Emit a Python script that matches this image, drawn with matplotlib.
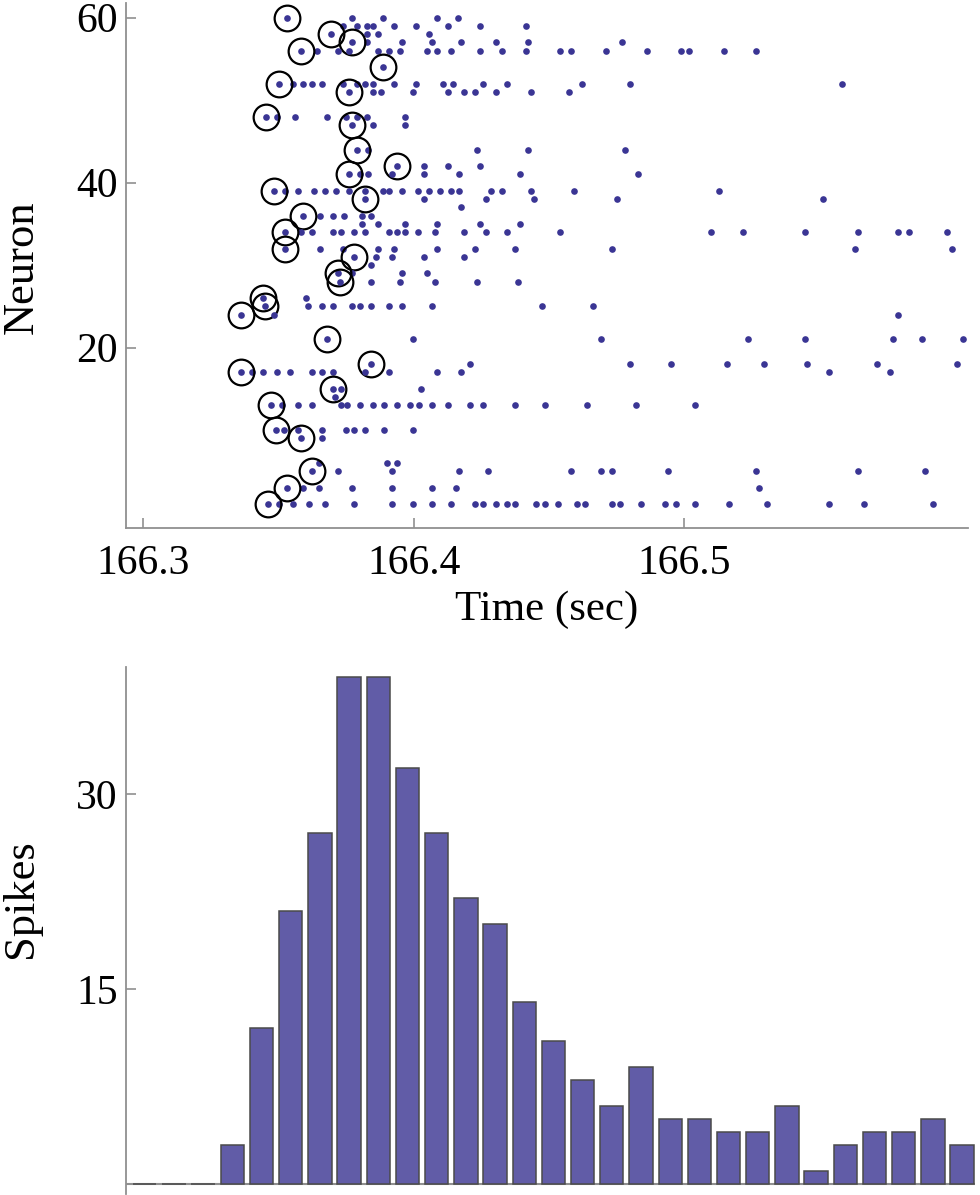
import matplotlib.pyplot as plt

plt.rcParams['font.family'] = ['Liberation Serif', 'DejaVu Serif']

# spike times, in ms after t0 (seconds), one list per neuron
t0 = 166.3
neuron_ids = [60, 59, 58, 57, 56, 54, 52, 51, 48, 47, 44, 42, 41, 39, 38, 37,
              36, 35, 34, 32, 31, 30, 29, 28, 26, 25, 24, 21, 18, 17, 15, 14,
              13, 10, 9, 6, 5, 3, 1]
spike_ms = [
    [53.1, 77.2, 88.6, 108.6, 116.3],
    [73.8, 79.0, 82.7, 84.9, 92.7, 100.8, 112.6, 124.5, 141.5],
    [69.4, 82.7, 86.8, 105.6],
    [77.2, 82.7, 95.6, 106.7, 117.4, 130.4, 142.2, 177.0],
    [58.3, 64.2, 72.0, 76.0, 86.8, 90.8, 94.9, 104.9, 108.6, 113.8, 124.5,
     132.6, 141.5, 154.0, 158.1, 171.1, 186.2, 198.8, 201.7, 214.7, 226.5],
    [88.6],
    [50.2, 55.3, 59.0, 62.4, 66.1, 73.8, 79.0, 82.0, 84.9, 92.7, 100.8, 110.8,
     114.5, 125.6, 134.5, 162.2, 179.9, 258.3],
    [76.0, 84.9, 87.9, 99.7, 112.6, 118.6, 122.6, 130.4, 143.3, 157.4],
    [45.4, 49.4, 56.1, 67.9, 74.9, 79.0, 82.7, 96.7],
    [77.2, 84.9, 96.7],
    [79.0, 83.1, 123.4, 142.2, 178.1],
    [93.8, 103.8, 112.6, 124.5],
    [76.0, 80.1, 83.1, 91.9, 103.8, 116.7, 139.3, 182.9],
    [48.3, 52.4, 57.2, 63.1, 67.2, 71.2, 76.0, 82.0, 88.6, 90.8, 95.6, 101.6,
     105.6, 109.7, 113.8, 116.7, 128.5, 132.6, 143.3, 159.2, 212.8],
    [82.0, 103.8, 126.7, 144.4, 175.1, 251.3],
    [117.4],
    [59.0, 65.3, 70.1, 74.2, 80.9, 84.2],
    [80.9, 86.8, 96.7, 108.6, 124.5, 139.3],
    [52.4, 58.3, 62.4, 70.1, 73.1, 77.9, 82.0, 90.8, 93.8, 96.7, 101.6, 107.8,
     118.6, 126.7, 134.5, 154.0, 209.9, 221.7, 244.6, 264.2, 279.0, 283.1, 297.1],
    [52.4, 65.3, 73.8, 86.8, 92.7, 108.6, 122.6, 137.4, 173.3, 263.1, 299.0],
    [77.9, 86.0, 91.9, 103.8, 118.6],
    [84.2],
    [72.0, 77.2, 95.6, 104.9],
    [72.7, 84.2, 94.9, 107.8, 123.4, 138.5],
    [44.3, 60.1],
    [45.0, 60.9, 66.1, 70.1, 77.2, 80.1, 84.2, 90.8, 95.6, 106.7, 147.4, 166.2],
    [36.1, 48.3, 279.0],
    [67.9, 99.7, 169.2, 223.5, 244.6, 277.1, 287.9, 303.0],
    [84.2, 120.8, 179.9, 195.1, 215.8, 229.5, 245.4, 271.2, 300.8],
    [36.1, 40.2, 44.3, 49.4, 54.2, 62.4, 66.1, 70.1, 82.0, 90.8, 108.6, 117.4,
     253.5, 276.0],
    [70.1, 73.1, 102.7],
    [70.9],
    [47.2, 51.3, 57.2, 62.4, 73.1, 75.3, 80.1, 84.9, 89.0, 93.8, 98.6, 101.9,
     106.7, 112.6, 120.8, 125.6, 137.4, 148.5, 164.0, 182.1, 204.0],
    [49.1, 52.0, 57.2, 66.1, 74.9, 77.9, 82.0, 89.0, 99.7],
    [58.3, 66.1],
    [65.0, 90.1, 93.8],
    [62.4, 72.0, 91.9, 116.7, 127.4, 158.1, 169.2, 173.3, 194.0, 226.5, 264.2,
     289.0],
    [53.1, 59.0, 65.0, 77.2, 91.9, 106.7, 115.6, 227.6],
    [46.1, 50.2, 55.3, 61.3, 67.2, 77.9, 91.9, 99.7, 106.7, 113.8, 122.6, 125.6,
     130.4, 134.5, 137.4, 145.2, 148.5, 153.3, 160.3, 163.3, 173.3, 176.2, 184.0,
     192.9, 196.9, 204.0, 216.5, 230.6, 253.5, 266.4, 291.9],
]
# neurons whose first spike is ringed
circled_ids = [60, 58, 57, 56, 54, 52, 51, 48, 47, 44, 42, 41, 39, 38, 36, 34,
               32, 31, 29, 28, 26, 25, 24, 21, 18, 17, 15, 13, 10, 9, 5, 3, 1]

time_ticks = [166.3, 166.4, 166.5]
neuron_ticks = [20, 40, 60]

# spikes per bin for the histogram
bin_counts = [0, 0, 0, 3, 12, 21, 27, 39, 39, 32, 27, 22, 20, 14, 11, 8, 6, 9,
              5, 5, 4, 4, 6, 1, 3, 4, 4, 5, 3]
spike_ticks = [15, 30]

axis_gray = '#909090'
dot_color = '#3a3594'
bar_color = '#615ca7'

fig = plt.figure(figsize=(9.8, 11.95), dpi=100)
ax1 = fig.add_axes([126 / 980, 1 - 528 / 1195, 842 / 980, 525 / 1195])
ax2 = fig.add_axes([126 / 980, 1 - 1194 / 1195, 849 / 980, 527 / 1195])

for n, times in zip(neuron_ids, spike_ms):
    ts = [t0 + ms / 1000 for ms in times]
    ax1.plot(ts, [n] * len(ts), 'o', ms=4.8, mew=0, color=dot_color)
    if n in circled_ids:
        ax1.plot(ts[0], n, 'o', ms=18.5, mfc='none', mec='black', mew=1.6)

ax1.set_xlim(166.2936, 166.6049)
ax1.set_ylim(-1.89, 61.78)
ax1.set_xticks(time_ticks)
ax1.set_xticklabels([str(t) for t in time_ticks])
ax1.set_yticks(neuron_ticks)
ax1.set_xlabel('Time (sec)', fontsize=31, labelpad=5)
ax1.set_ylabel('Neuron', fontsize=32)
ax1.yaxis.set_label_coords(-0.1, 0.497)
ax1.tick_params(axis='x', pad=12)

ax2.bar(range(len(bin_counts)), bin_counts, width=0.8, color=bar_color,
        edgecolor='#4a4a4a', linewidth=1.1, zorder=3)
ax2.axhline(0, color=axis_gray, lw=1.5, zorder=2)
ax2.set_xlim(-0.64, 28.44)
ax2.set_ylim(-0.79, 39.78)
ax2.set_xticks([])
ax2.set_yticks(spike_ticks)
ax2.set_ylabel('Spikes', fontsize=32)
ax2.yaxis.set_label_coords(-0.1, 0.56)
ax2.spines['bottom'].set_visible(False)

for ax in (ax1, ax2):
    ax.spines['top'].set_visible(False)
    ax.spines['right'].set_visible(False)
    for s in ('left', 'bottom'):
        ax.spines[s].set_color(axis_gray)
        ax.spines[s].set_linewidth(1.3)
    ax.tick_params(direction='in', length=7, width=1.2, color=axis_gray,
                   labelsize=30)
    ax.tick_params(axis='y', pad=6)

fig.savefig('out.png', dpi=100)
